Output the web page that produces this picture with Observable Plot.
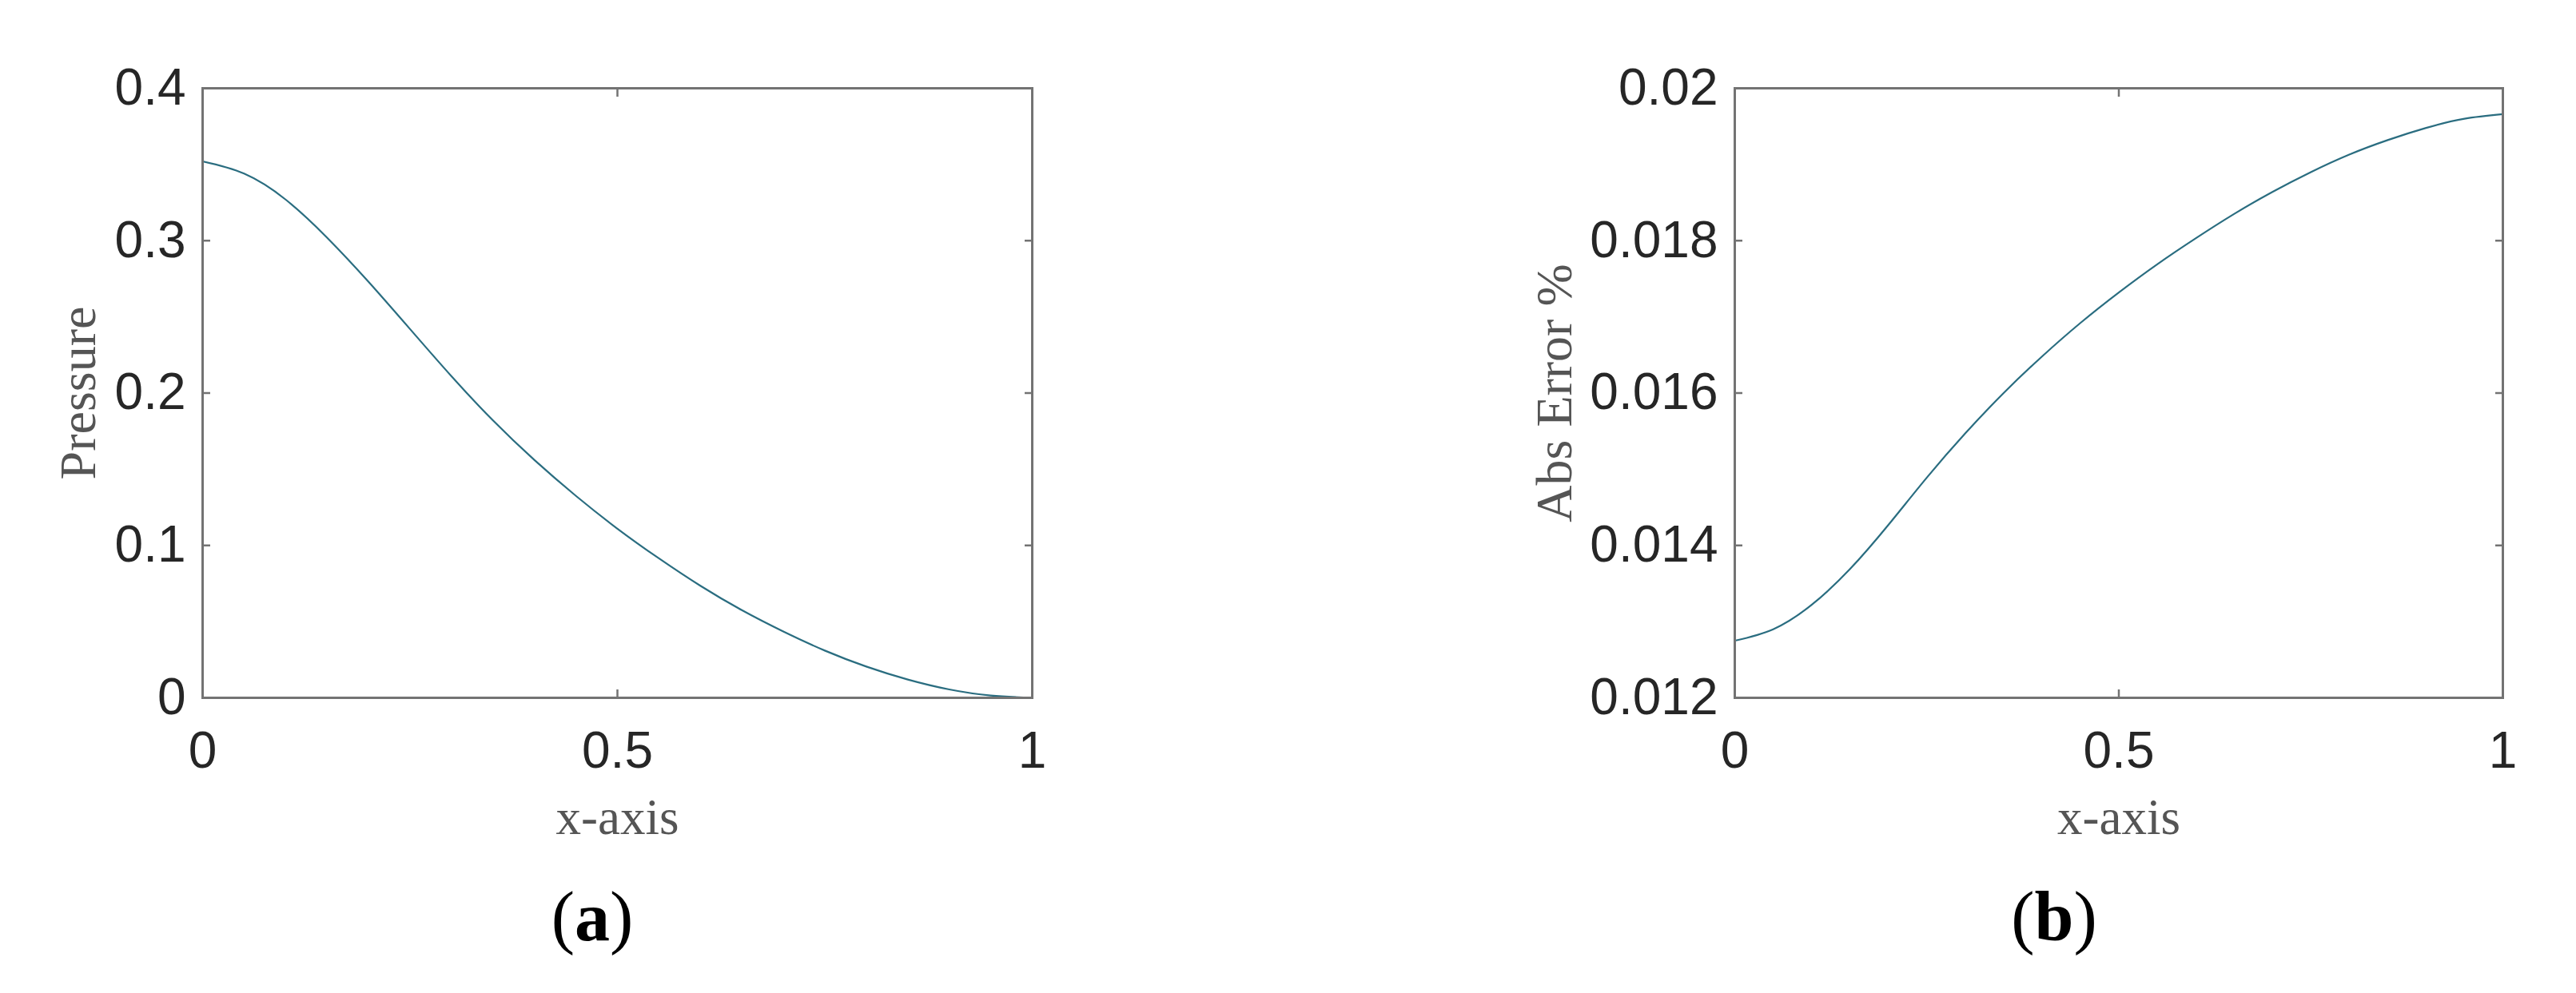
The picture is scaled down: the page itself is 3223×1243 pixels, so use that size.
<!DOCTYPE html>
<html>
<head>
<meta charset="utf-8">
<script src="https://cdn.jsdelivr.net/npm/d3@7"></script>
<script src="https://cdn.jsdelivr.net/npm/@observablehq/plot@0.6"></script>
<style>
  html, body { margin: 0; padding: 0; background: #ffffff; }
  #page { position: relative; width: 3223px; height: 1243px; background: #ffffff; overflow: hidden; }
  .panel { position: absolute; top: 0; }
  .caption { position: absolute; top: 1104px; width: 400px; text-align: center;
             font-family: "Liberation Serif", "Times New Roman", serif; font-size: 88px; line-height: 88px; color: #000; }
</style>
</head>
<body>
<div id="page">
  <div id="pa" class="panel" style="left:0px"></div>
  <div id="pb" class="panel" style="left:1611px"></div>
  <div class="caption" style="left:541px">(<b>a</b>)</div>
  <div class="caption" style="left:2370px">(<b>b</b>)</div>
</div>
<script>
// ---- data ----
const xPos = [0, 0.05, 0.1, 0.15, 0.2, 0.25, 0.3, 0.35, 0.4, 0.45, 0.5, 0.55, 0.6, 0.65, 0.7, 0.75, 0.8, 0.85, 0.9, 0.95, 1];
const pressure = [0.352, 0.344, 0.327, 0.302, 0.273, 0.242, 0.211, 0.182, 0.156, 0.1325, 0.111, 0.0915, 0.0735, 0.0575, 0.0435, 0.031, 0.0205, 0.012, 0.0055, 0.0015, 0];
const absError = [0.01275, 0.01290, 0.01322, 0.01369, 0.01427, 0.01489, 0.01547, 0.01600, 0.01648, 0.01692, 0.01732, 0.01769, 0.01803, 0.01835, 0.01864, 0.01890, 0.01913, 0.01932, 0.01948, 0.01960, 0.01966];
const xTicks = [0, 0.5, 1];
const pressureTicks = [0, 0.1, 0.2, 0.3, 0.4];
const errorTicks = [0.012, 0.014, 0.016, 0.018, 0.02];
const xLabel = "x-axis";
const yLabelA = "Pressure";
const yLabelB = "Abs Error %";

const dataA = xPos.map((x, i) => ({x, y: pressure[i]}));
const dataB = xPos.map((x, i) => ({x, y: absError[i]}));

const lineColor = "#2a6d80";
const frameColor = "#737373";
const tickText = "#262626";
const labelColor = "#555555";
const fmt = d3.format("~g");

function panel({data, yDomain, yTicks, yLabel, marginLeft, marginRight, yLabelDx}) {
  const tickStyle = {stroke: frameColor, strokeWidth: 2.5, label: null, text: null, tickSize: -10};
  const serif = "'Liberation Serif', 'Times New Roman', serif";
  return Plot.plot({
    width: 1611,
    height: 1100,
    marginLeft, marginRight,
    marginTop: 110,
    marginBottom: 227,
    style: {fontFamily: "'Liberation Sans', Arial, Helvetica, sans-serif", fontSize: "64px", color: tickText, background: "#ffffff", overflow: "visible"},
    x: {domain: [0, 1]},
    y: {domain: yDomain},
    marks: [
      Plot.line(data, {x: "x", y: "y", stroke: lineColor, strokeWidth: 2.2, curve: "natural"}),
      Plot.frame({stroke: frameColor, strokeWidth: 3}),
      Plot.axisX({ticks: xTicks, tickFormat: fmt, anchor: "bottom", tickSize: 0, tickPadding: 42, label: null, fill: tickText}),
      Plot.axisX({ticks: xTicks, anchor: "bottom", ...tickStyle}),
      Plot.axisX({ticks: xTicks, anchor: "top", ...tickStyle}),
      Plot.axisY({ticks: yTicks, tickFormat: fmt, anchor: "left", tickSize: 0, tickPadding: 21, label: null, fill: tickText}),
      Plot.axisY({ticks: yTicks, anchor: "left", ...tickStyle}),
      Plot.axisY({ticks: yTicks, anchor: "right", ...tickStyle}),
      Plot.text([xLabel], {text: d => d, frameAnchor: "bottom", textAnchor: "middle", lineAnchor: "middle", dy: 150, fontFamily: serif, fontSize: 63, fill: labelColor}),
      Plot.text([yLabel], {text: d => d, frameAnchor: "left", textAnchor: "middle", lineAnchor: "middle", rotate: -90, dx: yLabelDx, fontFamily: serif, fontSize: 64, fill: labelColor})
    ]
  });
}

document.getElementById("pa").append(panel({
  data: dataA, yDomain: [0, 0.4], yTicks: pressureTicks, yLabel: yLabelA,
  marginLeft: 253, marginRight: 320, yLabelDx: -155
}));
document.getElementById("pb").append(panel({
  data: dataB, yDomain: [0.012, 0.02], yTicks: errorTicks, yLabel: yLabelB,
  marginLeft: 559, marginRight: 91, yLabelDx: -225
}));
</script>
</body>
</html>
